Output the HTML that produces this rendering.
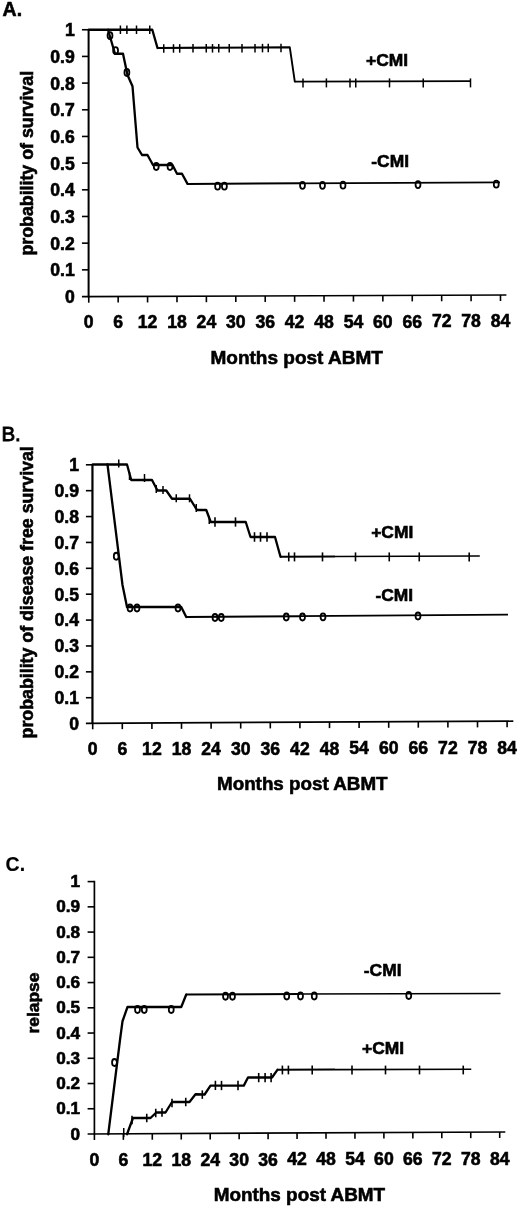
<!DOCTYPE html>
<html><head><meta charset="utf-8"><title>Figure</title>
<style>
html,body{margin:0;padding:0;background:#fff;}
svg{display:block;font-family:"Liberation Sans", Arial, Helvetica, sans-serif;}
text{stroke:#000;stroke-width:0.6px;}
</style></head><body>
<svg width="520" height="1209" viewBox="0 0 520 1209">
<rect x="0" y="0" width="520" height="1209" fill="#fff" stroke="none"/>
<g stroke="#000" fill="#000" stroke-linecap="butt">
<text transform="translate(2.60,16.40) scale(0.96,1)" font-size="20.3" font-weight="bold" text-anchor="start">A.</text>
<line x1="88.60" y1="28.95" x2="88.60" y2="297.50" stroke-width="2.0"/>
<line x1="81.95" y1="296.70" x2="506.40" y2="295.00" stroke-width="1.7"/>
<line x1="81.95" y1="29.75" x2="88.75" y2="29.75" stroke-width="1.6"/>
<text transform="translate(74.80,36.15) scale(1.0,1)" font-size="17.6" font-weight="bold" text-anchor="end">1</text>
<line x1="81.95" y1="56.42" x2="88.75" y2="56.42" stroke-width="1.6"/>
<text transform="translate(74.80,62.82) scale(1.0,1)" font-size="17.6" font-weight="bold" text-anchor="end">0.9</text>
<line x1="81.95" y1="83.10" x2="88.75" y2="83.10" stroke-width="1.6"/>
<text transform="translate(74.80,89.50) scale(1.0,1)" font-size="17.6" font-weight="bold" text-anchor="end">0.8</text>
<line x1="81.95" y1="109.78" x2="88.75" y2="109.78" stroke-width="1.6"/>
<text transform="translate(74.80,116.18) scale(1.0,1)" font-size="17.6" font-weight="bold" text-anchor="end">0.7</text>
<line x1="81.95" y1="136.45" x2="88.75" y2="136.45" stroke-width="1.6"/>
<text transform="translate(74.80,142.85) scale(1.0,1)" font-size="17.6" font-weight="bold" text-anchor="end">0.6</text>
<line x1="81.95" y1="163.12" x2="88.75" y2="163.12" stroke-width="1.6"/>
<text transform="translate(74.80,169.53) scale(1.0,1)" font-size="17.6" font-weight="bold" text-anchor="end">0.5</text>
<line x1="81.95" y1="189.80" x2="88.75" y2="189.80" stroke-width="1.6"/>
<text transform="translate(74.80,196.20) scale(1.0,1)" font-size="17.6" font-weight="bold" text-anchor="end">0.4</text>
<line x1="81.95" y1="216.47" x2="88.75" y2="216.47" stroke-width="1.6"/>
<text transform="translate(74.80,222.88) scale(1.0,1)" font-size="17.6" font-weight="bold" text-anchor="end">0.3</text>
<line x1="81.95" y1="243.15" x2="88.75" y2="243.15" stroke-width="1.6"/>
<text transform="translate(74.80,249.55) scale(1.0,1)" font-size="17.6" font-weight="bold" text-anchor="end">0.2</text>
<line x1="81.95" y1="269.83" x2="88.75" y2="269.83" stroke-width="1.6"/>
<text transform="translate(74.80,276.23) scale(1.0,1)" font-size="17.6" font-weight="bold" text-anchor="end">0.1</text>
<text transform="translate(74.80,302.90) scale(1.0,1)" font-size="17.6" font-weight="bold" text-anchor="end">0</text>
<line x1="88.75" y1="296.70" x2="88.75" y2="302.70" stroke-width="1.6"/>
<text transform="translate(88.75,328.00) scale(1.0,1)" font-size="17.6" font-weight="bold" text-anchor="middle">0</text>
<line x1="118.16" y1="296.58" x2="118.16" y2="302.58" stroke-width="1.6"/>
<text transform="translate(118.16,328.00) scale(1.0,1)" font-size="17.6" font-weight="bold" text-anchor="middle">6</text>
<line x1="147.57" y1="296.46" x2="147.57" y2="302.46" stroke-width="1.6"/>
<text transform="translate(147.57,328.00) scale(1.0,1)" font-size="17.6" font-weight="bold" text-anchor="middle">12</text>
<line x1="176.98" y1="296.34" x2="176.98" y2="302.34" stroke-width="1.6"/>
<text transform="translate(176.98,328.00) scale(1.0,1)" font-size="17.6" font-weight="bold" text-anchor="middle">18</text>
<line x1="206.39" y1="296.22" x2="206.39" y2="302.22" stroke-width="1.6"/>
<text transform="translate(206.39,328.00) scale(1.0,1)" font-size="17.6" font-weight="bold" text-anchor="middle">24</text>
<line x1="235.80" y1="296.10" x2="235.80" y2="302.10" stroke-width="1.6"/>
<text transform="translate(235.80,328.00) scale(1.0,1)" font-size="17.6" font-weight="bold" text-anchor="middle">30</text>
<line x1="265.21" y1="295.98" x2="265.21" y2="301.98" stroke-width="1.6"/>
<text transform="translate(265.21,328.00) scale(1.0,1)" font-size="17.6" font-weight="bold" text-anchor="middle">36</text>
<line x1="294.62" y1="295.86" x2="294.62" y2="301.86" stroke-width="1.6"/>
<text transform="translate(294.62,328.00) scale(1.0,1)" font-size="17.6" font-weight="bold" text-anchor="middle">42</text>
<line x1="324.03" y1="295.74" x2="324.03" y2="301.74" stroke-width="1.6"/>
<text transform="translate(324.03,328.00) scale(1.0,1)" font-size="17.6" font-weight="bold" text-anchor="middle">48</text>
<line x1="353.44" y1="295.62" x2="353.44" y2="301.62" stroke-width="1.6"/>
<text transform="translate(353.44,328.00) scale(1.0,1)" font-size="17.6" font-weight="bold" text-anchor="middle">54</text>
<line x1="382.85" y1="295.50" x2="382.85" y2="301.50" stroke-width="1.6"/>
<text transform="translate(382.85,328.00) scale(1.0,1)" font-size="17.6" font-weight="bold" text-anchor="middle">60</text>
<line x1="412.26" y1="295.38" x2="412.26" y2="301.38" stroke-width="1.6"/>
<text transform="translate(412.26,328.00) scale(1.0,1)" font-size="17.6" font-weight="bold" text-anchor="middle">66</text>
<line x1="441.67" y1="295.26" x2="441.67" y2="301.26" stroke-width="1.6"/>
<text transform="translate(441.67,327.00) scale(1.0,1)" font-size="17.6" font-weight="bold" text-anchor="middle">72</text>
<line x1="471.08" y1="295.14" x2="471.08" y2="301.14" stroke-width="1.6"/>
<text transform="translate(471.08,327.00) scale(1.0,1)" font-size="17.6" font-weight="bold" text-anchor="middle">78</text>
<line x1="500.49" y1="295.02" x2="500.49" y2="301.02" stroke-width="1.6"/>
<text transform="translate(500.49,327.00) scale(1.0,1)" font-size="17.6" font-weight="bold" text-anchor="middle">84</text>
<text transform="translate(33.00,255.60) rotate(-90) scale(1.017,1)" font-size="17.5" font-weight="bold" text-anchor="start">probability of survival</text>
<text transform="translate(210.50,363.60) scale(1.0,1)" font-size="19" font-weight="bold" text-anchor="start">Months post ABMT</text>
<text transform="translate(366.00,65.50) scale(1.0,1)" font-size="17.4" font-weight="bold" text-anchor="start">+CMI</text>
<text transform="translate(371.30,167.30) scale(1.0,1)" font-size="17.4" font-weight="bold" text-anchor="start">-CMI</text>
<polyline points="88.75,29.75 152.30,29.75 157.50,48.00" fill="none" stroke-width="2.3" stroke-linejoin="round" stroke-linecap="round"/>
<polyline points="157.50,48.00 215.00,47.70" fill="none" stroke-width="2.2" stroke-linejoin="round"/>
<polyline points="215.00,47.70 289.80,47.30 294.80,81.60" fill="none" stroke-width="1.9" stroke-linejoin="round" stroke-linecap="round"/>
<polyline points="294.80,81.60 470.50,81.20" fill="none" stroke-width="1.7" stroke-linejoin="round"/>
<line x1="120.40" y1="25.50" x2="120.40" y2="34.00" stroke-width="1.5"/>
<line x1="126.90" y1="25.50" x2="126.90" y2="34.00" stroke-width="1.5"/>
<line x1="136.50" y1="25.50" x2="136.50" y2="34.00" stroke-width="1.5"/>
<line x1="149.75" y1="25.50" x2="149.75" y2="34.00" stroke-width="1.5"/>
<line x1="163.75" y1="44.24" x2="163.75" y2="52.74" stroke-width="1.5"/>
<line x1="173.50" y1="44.20" x2="173.50" y2="52.70" stroke-width="1.5"/>
<line x1="179.70" y1="44.17" x2="179.70" y2="52.67" stroke-width="1.5"/>
<line x1="193.00" y1="44.12" x2="193.00" y2="52.62" stroke-width="1.5"/>
<line x1="206.25" y1="44.07" x2="206.25" y2="52.57" stroke-width="1.5"/>
<line x1="212.50" y1="44.05" x2="212.50" y2="52.55" stroke-width="1.5"/>
<line x1="218.75" y1="44.02" x2="218.75" y2="52.52" stroke-width="1.5"/>
<line x1="229.25" y1="43.98" x2="229.25" y2="52.48" stroke-width="1.5"/>
<line x1="242.00" y1="43.93" x2="242.00" y2="52.43" stroke-width="1.5"/>
<line x1="255.00" y1="43.88" x2="255.00" y2="52.38" stroke-width="1.5"/>
<line x1="262.50" y1="43.86" x2="262.50" y2="52.36" stroke-width="1.5"/>
<line x1="268.25" y1="43.83" x2="268.25" y2="52.33" stroke-width="1.5"/>
<line x1="281.00" y1="43.78" x2="281.00" y2="52.28" stroke-width="1.5"/>
<line x1="303.00" y1="78.40" x2="303.00" y2="87.40" stroke-width="1.5"/>
<line x1="326.40" y1="78.40" x2="326.40" y2="87.40" stroke-width="1.5"/>
<line x1="350.00" y1="78.40" x2="350.00" y2="87.40" stroke-width="1.5"/>
<line x1="355.75" y1="78.40" x2="355.75" y2="87.40" stroke-width="1.5"/>
<line x1="389.50" y1="78.40" x2="389.50" y2="87.40" stroke-width="1.5"/>
<line x1="423.25" y1="78.40" x2="423.25" y2="87.40" stroke-width="1.5"/>
<line x1="470.50" y1="78.40" x2="470.50" y2="87.40" stroke-width="1.5"/>
<polyline points="108.00,29.75 115.00,53.75 123.00,53.75 127.50,75.00 132.50,86.25 137.50,147.50 142.00,155.00 147.50,155.00 153.00,165.00 172.50,165.00 177.00,173.75 182.00,173.75 187.50,183.90" fill="none" stroke-width="2.3" stroke-linejoin="round" stroke-linecap="round"/>
<polyline points="187.50,183.90 300.00,183.30" fill="none" stroke-width="2.00" stroke-linejoin="round"/>
<polyline points="300.00,183.30 500.00,182.40" fill="none" stroke-width="1.7" stroke-linejoin="round"/>
<ellipse cx="110.00" cy="35.60" rx="2.45" ry="3.5" fill="none" stroke-width="1.8"/>
<ellipse cx="115.60" cy="50.60" rx="2.45" ry="3.5" fill="none" stroke-width="1.8"/>
<ellipse cx="126.90" cy="72.50" rx="2.45" ry="3.5" fill="none" stroke-width="1.8"/>
<ellipse cx="156.25" cy="166.50" rx="2.45" ry="3.5" fill="none" stroke-width="1.8"/>
<ellipse cx="170.00" cy="166.50" rx="2.45" ry="3.5" fill="none" stroke-width="1.8"/>
<ellipse cx="217.60" cy="186.20" rx="2.45" ry="3.5" fill="none" stroke-width="1.8"/>
<ellipse cx="224.40" cy="186.20" rx="2.45" ry="3.5" fill="none" stroke-width="1.8"/>
<ellipse cx="302.50" cy="185.30" rx="2.45" ry="3.5" fill="none" stroke-width="1.8"/>
<ellipse cx="322.50" cy="185.30" rx="2.45" ry="3.5" fill="none" stroke-width="1.8"/>
<ellipse cx="343.00" cy="185.20" rx="2.45" ry="3.5" fill="none" stroke-width="1.8"/>
<ellipse cx="418.00" cy="184.60" rx="2.45" ry="3.5" fill="none" stroke-width="1.8"/>
<ellipse cx="496.25" cy="184.20" rx="2.45" ry="3.5" fill="none" stroke-width="1.8"/>
<text transform="translate(1.40,441.20) scale(1.0,1)" font-size="20.5" font-weight="normal" text-anchor="start" style="stroke-width:0.9px">B.</text>
<line x1="92.45" y1="464.00" x2="92.45" y2="724.10" stroke-width="2.2"/>
<line x1="85.90" y1="723.30" x2="513.30" y2="721.20" stroke-width="1.7"/>
<line x1="85.90" y1="464.80" x2="92.70" y2="464.80" stroke-width="1.6"/>
<text transform="translate(79.00,471.20) scale(1.0,1)" font-size="17.6" font-weight="bold" text-anchor="end">1</text>
<line x1="85.90" y1="490.68" x2="92.70" y2="490.68" stroke-width="1.6"/>
<text transform="translate(79.00,497.08) scale(1.0,1)" font-size="17.6" font-weight="bold" text-anchor="end">0.9</text>
<line x1="85.90" y1="516.56" x2="92.70" y2="516.56" stroke-width="1.6"/>
<text transform="translate(79.00,522.96) scale(1.0,1)" font-size="17.6" font-weight="bold" text-anchor="end">0.8</text>
<line x1="85.90" y1="542.44" x2="92.70" y2="542.44" stroke-width="1.6"/>
<text transform="translate(79.00,548.84) scale(1.0,1)" font-size="17.6" font-weight="bold" text-anchor="end">0.7</text>
<line x1="85.90" y1="568.32" x2="92.70" y2="568.32" stroke-width="1.6"/>
<text transform="translate(79.00,574.72) scale(1.0,1)" font-size="17.6" font-weight="bold" text-anchor="end">0.6</text>
<line x1="85.90" y1="594.20" x2="92.70" y2="594.20" stroke-width="1.6"/>
<text transform="translate(79.00,600.60) scale(1.0,1)" font-size="17.6" font-weight="bold" text-anchor="end">0.5</text>
<line x1="85.90" y1="620.08" x2="92.70" y2="620.08" stroke-width="1.6"/>
<text transform="translate(79.00,626.48) scale(1.0,1)" font-size="17.6" font-weight="bold" text-anchor="end">0.4</text>
<line x1="85.90" y1="645.96" x2="92.70" y2="645.96" stroke-width="1.6"/>
<text transform="translate(79.00,652.36) scale(1.0,1)" font-size="17.6" font-weight="bold" text-anchor="end">0.3</text>
<line x1="85.90" y1="671.84" x2="92.70" y2="671.84" stroke-width="1.6"/>
<text transform="translate(79.00,678.24) scale(1.0,1)" font-size="17.6" font-weight="bold" text-anchor="end">0.2</text>
<line x1="85.90" y1="697.72" x2="92.70" y2="697.72" stroke-width="1.6"/>
<text transform="translate(79.00,704.12) scale(1.0,1)" font-size="17.6" font-weight="bold" text-anchor="end">0.1</text>
<text transform="translate(79.00,730.00) scale(1.0,1)" font-size="17.6" font-weight="bold" text-anchor="end">0</text>
<line x1="92.70" y1="723.30" x2="92.70" y2="729.30" stroke-width="1.6"/>
<text transform="translate(92.70,755.00) scale(1.0,1)" font-size="17.6" font-weight="bold" text-anchor="middle">0</text>
<line x1="122.30" y1="723.15" x2="122.30" y2="729.15" stroke-width="1.6"/>
<text transform="translate(122.30,755.00) scale(1.0,1)" font-size="17.6" font-weight="bold" text-anchor="middle">6</text>
<line x1="151.90" y1="723.00" x2="151.90" y2="729.00" stroke-width="1.6"/>
<text transform="translate(151.90,755.00) scale(1.0,1)" font-size="17.6" font-weight="bold" text-anchor="middle">12</text>
<line x1="181.50" y1="722.86" x2="181.50" y2="728.86" stroke-width="1.6"/>
<text transform="translate(181.50,755.00) scale(1.0,1)" font-size="17.6" font-weight="bold" text-anchor="middle">18</text>
<line x1="211.10" y1="722.71" x2="211.10" y2="728.71" stroke-width="1.6"/>
<text transform="translate(211.10,755.00) scale(1.0,1)" font-size="17.6" font-weight="bold" text-anchor="middle">24</text>
<line x1="240.70" y1="722.56" x2="240.70" y2="728.56" stroke-width="1.6"/>
<text transform="translate(240.70,755.00) scale(1.0,1)" font-size="17.6" font-weight="bold" text-anchor="middle">30</text>
<line x1="270.30" y1="722.41" x2="270.30" y2="728.41" stroke-width="1.6"/>
<text transform="translate(270.30,755.00) scale(1.0,1)" font-size="17.6" font-weight="bold" text-anchor="middle">36</text>
<line x1="299.90" y1="722.27" x2="299.90" y2="728.27" stroke-width="1.6"/>
<text transform="translate(299.90,755.00) scale(1.0,1)" font-size="17.6" font-weight="bold" text-anchor="middle">42</text>
<line x1="329.50" y1="722.12" x2="329.50" y2="728.12" stroke-width="1.6"/>
<text transform="translate(329.50,755.00) scale(1.0,1)" font-size="17.6" font-weight="bold" text-anchor="middle">48</text>
<line x1="359.10" y1="721.97" x2="359.10" y2="727.97" stroke-width="1.6"/>
<text transform="translate(359.10,754.00) scale(1.0,1)" font-size="17.6" font-weight="bold" text-anchor="middle">54</text>
<line x1="388.70" y1="721.82" x2="388.70" y2="727.82" stroke-width="1.6"/>
<text transform="translate(388.70,754.00) scale(1.0,1)" font-size="17.6" font-weight="bold" text-anchor="middle">60</text>
<line x1="418.30" y1="721.67" x2="418.30" y2="727.67" stroke-width="1.6"/>
<text transform="translate(418.30,754.00) scale(1.0,1)" font-size="17.6" font-weight="bold" text-anchor="middle">66</text>
<line x1="447.90" y1="721.53" x2="447.90" y2="727.53" stroke-width="1.6"/>
<text transform="translate(447.90,754.00) scale(1.0,1)" font-size="17.6" font-weight="bold" text-anchor="middle">72</text>
<line x1="477.50" y1="721.38" x2="477.50" y2="727.38" stroke-width="1.6"/>
<text transform="translate(477.50,754.00) scale(1.0,1)" font-size="17.6" font-weight="bold" text-anchor="middle">78</text>
<line x1="507.10" y1="721.23" x2="507.10" y2="727.23" stroke-width="1.6"/>
<text transform="translate(507.10,754.00) scale(1.0,1)" font-size="17.6" font-weight="bold" text-anchor="middle">84</text>
<text transform="translate(32.90,738.40) rotate(-90) scale(1.0155,1)" font-size="17.5" font-weight="bold" text-anchor="start">probability of disease free survival</text>
<text transform="translate(217.00,790.20) scale(0.99,1)" font-size="19" font-weight="bold" text-anchor="start">Months post ABMT</text>
<text transform="translate(371.20,538.00) scale(1.0,1)" font-size="17.4" font-weight="bold" text-anchor="start">+CMI</text>
<text transform="translate(375.50,600.60) scale(1.0,1)" font-size="17.4" font-weight="bold" text-anchor="start">-CMI</text>
<polyline points="92.70,464.50 127.00,464.50 131.25,480.00 152.00,480.00 157.50,490.50 166.25,490.50 172.00,498.75 190.00,498.75 197.00,510.00 206.25,510.00 210.75,522.00 245.75,522.00 250.50,537.00 275.00,537.00 280.50,556.75" fill="none" stroke-width="2.3" stroke-linejoin="round" stroke-linecap="round"/>
<polyline points="280.50,556.75 335.00,556.50" fill="none" stroke-width="2.00" stroke-linejoin="round"/>
<polyline points="335.00,556.50 479.80,556.00" fill="none" stroke-width="1.7" stroke-linejoin="round"/>
<line x1="118.75" y1="459.50" x2="118.75" y2="467.50" stroke-width="1.5"/>
<line x1="129.50" y1="472.00" x2="129.50" y2="480.00" stroke-width="1.5"/>
<line x1="144.50" y1="474.00" x2="144.50" y2="482.00" stroke-width="1.5"/>
<line x1="156.25" y1="485.00" x2="156.25" y2="493.00" stroke-width="1.5"/>
<line x1="163.00" y1="486.00" x2="163.00" y2="494.00" stroke-width="1.5"/>
<line x1="176.25" y1="494.30" x2="176.25" y2="502.30" stroke-width="1.5"/>
<line x1="189.50" y1="494.30" x2="189.50" y2="502.30" stroke-width="1.5"/>
<line x1="196.25" y1="504.00" x2="196.25" y2="512.00" stroke-width="1.5"/>
<line x1="209.25" y1="516.00" x2="209.25" y2="524.00" stroke-width="1.5"/>
<line x1="215.00" y1="517.35" x2="215.00" y2="526.65" stroke-width="1.6"/>
<line x1="235.50" y1="517.35" x2="235.50" y2="526.65" stroke-width="1.6"/>
<line x1="254.50" y1="532.25" x2="254.50" y2="541.75" stroke-width="1.6"/>
<line x1="260.50" y1="532.25" x2="260.50" y2="541.75" stroke-width="1.6"/>
<line x1="267.00" y1="532.25" x2="267.00" y2="541.75" stroke-width="1.6"/>
<line x1="288.75" y1="552.40" x2="288.75" y2="561.40" stroke-width="1.6"/>
<line x1="294.50" y1="552.40" x2="294.50" y2="561.40" stroke-width="1.6"/>
<line x1="322.50" y1="552.40" x2="322.50" y2="561.40" stroke-width="1.6"/>
<line x1="355.50" y1="552.40" x2="355.50" y2="561.40" stroke-width="1.6"/>
<line x1="389.25" y1="552.40" x2="389.25" y2="561.40" stroke-width="1.6"/>
<line x1="419.25" y1="552.40" x2="419.25" y2="561.40" stroke-width="1.6"/>
<line x1="469.20" y1="552.40" x2="469.20" y2="561.40" stroke-width="1.6"/>
<polyline points="107.50,464.50 122.50,585.00 127.00,607.00 181.25,607.00 186.25,617.00" fill="none" stroke-width="2.3" stroke-linejoin="round" stroke-linecap="round"/>
<polyline points="186.25,617.00 300.00,616.20" fill="none" stroke-width="2.00" stroke-linejoin="round"/>
<polyline points="300.00,616.20 508.00,614.60" fill="none" stroke-width="1.7" stroke-linejoin="round"/>
<ellipse cx="116.25" cy="556.25" rx="2.45" ry="3.5" fill="none" stroke-width="1.8"/>
<ellipse cx="130.00" cy="608.00" rx="2.45" ry="3.5" fill="none" stroke-width="1.8"/>
<ellipse cx="137.00" cy="608.00" rx="2.45" ry="3.5" fill="none" stroke-width="1.8"/>
<ellipse cx="178.00" cy="608.00" rx="2.45" ry="3.5" fill="none" stroke-width="1.8"/>
<ellipse cx="215.00" cy="617.50" rx="2.45" ry="3.5" fill="none" stroke-width="1.8"/>
<ellipse cx="221.25" cy="617.50" rx="2.45" ry="3.5" fill="none" stroke-width="1.8"/>
<ellipse cx="286.25" cy="617.00" rx="2.45" ry="3.5" fill="none" stroke-width="1.8"/>
<ellipse cx="302.50" cy="617.00" rx="2.45" ry="3.5" fill="none" stroke-width="1.8"/>
<ellipse cx="323.00" cy="616.80" rx="2.45" ry="3.5" fill="none" stroke-width="1.8"/>
<ellipse cx="418.00" cy="616.00" rx="2.45" ry="3.5" fill="none" stroke-width="1.8"/>
<text transform="translate(5.60,871.30) scale(0.95,1)" font-size="20.5" font-weight="bold" text-anchor="start" style="stroke-width:0.2px">C.</text>
<line x1="94.40" y1="880.80" x2="94.40" y2="1134.80" stroke-width="1.7"/>
<line x1="87.60" y1="1134.00" x2="505.30" y2="1132.00" stroke-width="1.7"/>
<line x1="87.60" y1="881.60" x2="94.40" y2="881.60" stroke-width="1.6"/>
<text transform="translate(80.00,887.20) scale(1.04,1)" font-size="16.5" font-weight="bold" text-anchor="end">1</text>
<line x1="87.60" y1="906.84" x2="94.40" y2="906.84" stroke-width="1.6"/>
<text transform="translate(80.00,912.44) scale(1.04,1)" font-size="16.5" font-weight="bold" text-anchor="end">0.9</text>
<line x1="87.60" y1="932.08" x2="94.40" y2="932.08" stroke-width="1.6"/>
<text transform="translate(80.00,937.68) scale(1.04,1)" font-size="16.5" font-weight="bold" text-anchor="end">0.8</text>
<line x1="87.60" y1="957.32" x2="94.40" y2="957.32" stroke-width="1.6"/>
<text transform="translate(80.00,962.92) scale(1.04,1)" font-size="16.5" font-weight="bold" text-anchor="end">0.7</text>
<line x1="87.60" y1="982.56" x2="94.40" y2="982.56" stroke-width="1.6"/>
<text transform="translate(80.00,988.16) scale(1.04,1)" font-size="16.5" font-weight="bold" text-anchor="end">0.6</text>
<line x1="87.60" y1="1007.80" x2="94.40" y2="1007.80" stroke-width="1.6"/>
<text transform="translate(80.00,1013.40) scale(1.04,1)" font-size="16.5" font-weight="bold" text-anchor="end">0.5</text>
<line x1="87.60" y1="1033.04" x2="94.40" y2="1033.04" stroke-width="1.6"/>
<text transform="translate(80.00,1038.64) scale(1.04,1)" font-size="16.5" font-weight="bold" text-anchor="end">0.4</text>
<line x1="87.60" y1="1058.28" x2="94.40" y2="1058.28" stroke-width="1.6"/>
<text transform="translate(80.00,1063.88) scale(1.04,1)" font-size="16.5" font-weight="bold" text-anchor="end">0.3</text>
<line x1="87.60" y1="1083.52" x2="94.40" y2="1083.52" stroke-width="1.6"/>
<text transform="translate(80.00,1089.12) scale(1.04,1)" font-size="16.5" font-weight="bold" text-anchor="end">0.2</text>
<line x1="87.60" y1="1108.76" x2="94.40" y2="1108.76" stroke-width="1.6"/>
<text transform="translate(80.00,1114.36) scale(1.04,1)" font-size="16.5" font-weight="bold" text-anchor="end">0.1</text>
<text transform="translate(80.00,1139.60) scale(1.04,1)" font-size="16.5" font-weight="bold" text-anchor="end">0</text>
<line x1="94.40" y1="1134.00" x2="94.40" y2="1140.00" stroke-width="1.6"/>
<text transform="translate(94.40,1166.00) scale(1.0,1)" font-size="17.6" font-weight="bold" text-anchor="middle">0</text>
<line x1="123.35" y1="1133.86" x2="123.35" y2="1139.86" stroke-width="1.6"/>
<text transform="translate(123.35,1166.00) scale(1.0,1)" font-size="17.6" font-weight="bold" text-anchor="middle">6</text>
<line x1="152.30" y1="1133.72" x2="152.30" y2="1139.72" stroke-width="1.6"/>
<text transform="translate(152.30,1166.00) scale(1.0,1)" font-size="17.6" font-weight="bold" text-anchor="middle">12</text>
<line x1="181.25" y1="1133.58" x2="181.25" y2="1139.58" stroke-width="1.6"/>
<text transform="translate(181.25,1166.00) scale(1.0,1)" font-size="17.6" font-weight="bold" text-anchor="middle">18</text>
<line x1="210.20" y1="1133.44" x2="210.20" y2="1139.44" stroke-width="1.6"/>
<text transform="translate(210.20,1166.00) scale(1.0,1)" font-size="17.6" font-weight="bold" text-anchor="middle">24</text>
<line x1="239.15" y1="1133.30" x2="239.15" y2="1139.30" stroke-width="1.6"/>
<text transform="translate(239.15,1166.00) scale(1.0,1)" font-size="17.6" font-weight="bold" text-anchor="middle">30</text>
<line x1="268.10" y1="1133.15" x2="268.10" y2="1139.15" stroke-width="1.6"/>
<text transform="translate(268.10,1166.00) scale(1.0,1)" font-size="17.6" font-weight="bold" text-anchor="middle">36</text>
<line x1="297.05" y1="1133.01" x2="297.05" y2="1139.01" stroke-width="1.6"/>
<text transform="translate(297.05,1165.00) scale(1.0,1)" font-size="17.6" font-weight="bold" text-anchor="middle">42</text>
<line x1="326.00" y1="1132.87" x2="326.00" y2="1138.87" stroke-width="1.6"/>
<text transform="translate(326.00,1165.00) scale(1.0,1)" font-size="17.6" font-weight="bold" text-anchor="middle">48</text>
<line x1="354.95" y1="1132.73" x2="354.95" y2="1138.73" stroke-width="1.6"/>
<text transform="translate(354.95,1165.00) scale(1.0,1)" font-size="17.6" font-weight="bold" text-anchor="middle">54</text>
<line x1="383.90" y1="1132.59" x2="383.90" y2="1138.59" stroke-width="1.6"/>
<text transform="translate(383.90,1165.00) scale(1.0,1)" font-size="17.6" font-weight="bold" text-anchor="middle">60</text>
<line x1="412.85" y1="1132.45" x2="412.85" y2="1138.45" stroke-width="1.6"/>
<text transform="translate(412.85,1165.00) scale(1.0,1)" font-size="17.6" font-weight="bold" text-anchor="middle">66</text>
<line x1="441.80" y1="1132.31" x2="441.80" y2="1138.31" stroke-width="1.6"/>
<text transform="translate(441.80,1165.00) scale(1.0,1)" font-size="17.6" font-weight="bold" text-anchor="middle">72</text>
<line x1="470.75" y1="1132.17" x2="470.75" y2="1138.17" stroke-width="1.6"/>
<text transform="translate(470.75,1165.00) scale(1.0,1)" font-size="17.6" font-weight="bold" text-anchor="middle">78</text>
<line x1="499.70" y1="1132.03" x2="499.70" y2="1138.03" stroke-width="1.6"/>
<text transform="translate(499.70,1165.00) scale(1.0,1)" font-size="17.6" font-weight="bold" text-anchor="middle">84</text>
<text transform="translate(38.60,1033.50) rotate(-90) scale(1.024,1)" font-size="17" font-weight="bold" text-anchor="start">relapse</text>
<text transform="translate(213.70,1201.30) scale(0.995,1)" font-size="19" font-weight="bold" text-anchor="start">Months post ABMT</text>
<text transform="translate(363.80,975.50) scale(1.0,1)" font-size="17.4" font-weight="bold" text-anchor="start">-CMI</text>
<text transform="translate(362.00,1053.80) scale(1.0,1)" font-size="17.4" font-weight="bold" text-anchor="start">+CMI</text>
<polyline points="108.25,1134.25 120.00,1040.00 122.50,1021.25 127.50,1007.00 181.25,1007.00 186.25,994.50" fill="none" stroke-width="2.3" stroke-linejoin="round" stroke-linecap="round"/>
<polyline points="186.25,994.50 300.00,994.00" fill="none" stroke-width="2.00" stroke-linejoin="round"/>
<polyline points="300.00,994.00 500.50,993.50" fill="none" stroke-width="1.7" stroke-linejoin="round"/>
<ellipse cx="114.50" cy="1062.50" rx="2.45" ry="3.5" fill="none" stroke-width="1.8"/>
<ellipse cx="137.50" cy="1009.50" rx="2.45" ry="3.5" fill="none" stroke-width="1.8"/>
<ellipse cx="144.25" cy="1009.50" rx="2.45" ry="3.5" fill="none" stroke-width="1.8"/>
<ellipse cx="171.25" cy="1009.50" rx="2.45" ry="3.5" fill="none" stroke-width="1.8"/>
<ellipse cx="225.50" cy="996.25" rx="2.45" ry="3.5" fill="none" stroke-width="1.8"/>
<ellipse cx="232.50" cy="996.25" rx="2.45" ry="3.5" fill="none" stroke-width="1.8"/>
<ellipse cx="286.75" cy="996.00" rx="2.45" ry="3.5" fill="none" stroke-width="1.8"/>
<ellipse cx="300.50" cy="996.00" rx="2.45" ry="3.5" fill="none" stroke-width="1.8"/>
<ellipse cx="314.25" cy="996.00" rx="2.45" ry="3.5" fill="none" stroke-width="1.8"/>
<ellipse cx="408.75" cy="995.50" rx="2.45" ry="3.5" fill="none" stroke-width="1.8"/>
<polyline points="127.00,1134.25 133.00,1118.00 150.50,1118.00 156.25,1112.50 165.50,1112.50 172.00,1102.00 189.50,1102.00 195.50,1094.25 204.60,1094.50 210.50,1085.60 243.80,1085.60 248.00,1077.50 272.00,1077.50 277.40,1069.80" fill="none" stroke-width="2.3" stroke-linejoin="round" stroke-linecap="round"/>
<polyline points="277.40,1069.80 335.00,1069.60" fill="none" stroke-width="2.00" stroke-linejoin="round"/>
<polyline points="335.00,1069.60 471.25,1069.25" fill="none" stroke-width="1.7" stroke-linejoin="round"/>
<line x1="123.75" y1="1128.00" x2="123.75" y2="1137.00" stroke-width="1.5"/>
<line x1="132.00" y1="1115.75" x2="132.00" y2="1124.25" stroke-width="1.6"/>
<line x1="146.75" y1="1113.75" x2="146.75" y2="1122.25" stroke-width="1.6"/>
<line x1="155.75" y1="1108.75" x2="155.75" y2="1117.25" stroke-width="1.6"/>
<line x1="162.00" y1="1108.25" x2="162.00" y2="1116.75" stroke-width="1.6"/>
<line x1="172.00" y1="1098.75" x2="172.00" y2="1107.25" stroke-width="1.6"/>
<line x1="185.75" y1="1097.75" x2="185.75" y2="1106.25" stroke-width="1.6"/>
<line x1="202.30" y1="1090.35" x2="202.30" y2="1098.85" stroke-width="1.6"/>
<line x1="215.40" y1="1080.75" x2="215.40" y2="1090.05" stroke-width="1.6"/>
<line x1="221.50" y1="1080.85" x2="221.50" y2="1090.15" stroke-width="1.6"/>
<line x1="238.00" y1="1080.85" x2="238.00" y2="1090.15" stroke-width="1.6"/>
<line x1="258.70" y1="1072.95" x2="258.70" y2="1082.25" stroke-width="1.6"/>
<line x1="265.10" y1="1072.95" x2="265.10" y2="1082.25" stroke-width="1.6"/>
<line x1="271.10" y1="1072.95" x2="271.10" y2="1082.25" stroke-width="1.6"/>
<line x1="282.40" y1="1065.60" x2="282.40" y2="1074.40" stroke-width="1.6"/>
<line x1="288.40" y1="1065.60" x2="288.40" y2="1074.40" stroke-width="1.6"/>
<line x1="312.20" y1="1065.60" x2="312.20" y2="1074.40" stroke-width="1.6"/>
<line x1="352.00" y1="1065.60" x2="352.00" y2="1074.40" stroke-width="1.6"/>
<line x1="385.50" y1="1065.60" x2="385.50" y2="1074.40" stroke-width="1.6"/>
<line x1="419.50" y1="1065.60" x2="419.50" y2="1074.40" stroke-width="1.6"/>
<line x1="463.25" y1="1065.60" x2="463.25" y2="1074.40" stroke-width="1.6"/>
</g>
</svg>
</body></html>
